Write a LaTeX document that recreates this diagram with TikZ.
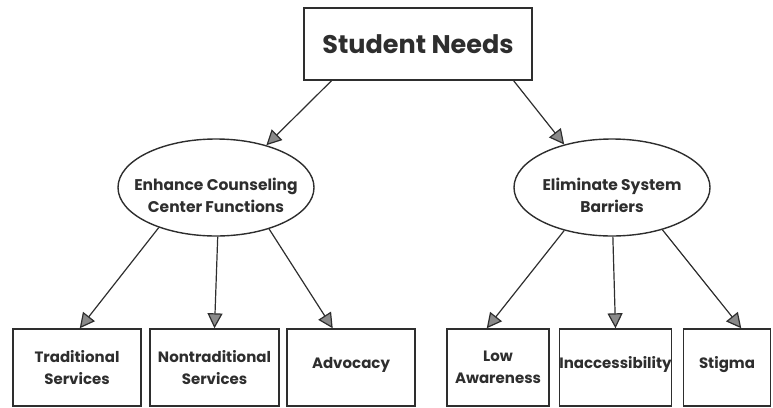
\documentclass[tikz,border=0pt]{standalone}
\usepackage{fontspec}
\setmainfont{Poppins}
\usetikzlibrary{shapes.geometric}
\usetikzlibrary{arrows.meta}

\definecolor{ink}{HTML}{2E2E2E}
\definecolor{tip}{HTML}{8A8A8A}

\tikzset{
	box/.style={rectangle,draw=ink,line width=1.4pt,text=ink,align=center,inner sep=0pt,
		minimum height=77pt,font=\fontsize{15}{22}\bfseries},
	oneline/.style={text height=11pt,text depth=10pt},
	oval/.style={ellipse,draw=ink,line width=1.4pt,inner sep=0pt,minimum width=196pt,minimum height=97pt},
	ovaltext/.style={text=ink,align=center,font=\fontsize{15.5}{22}\bfseries,yshift=-8pt},
	arr/.style={draw=ink,line width=1.2pt,-{Triangle[length=15pt,width=15pt,fill=tip]}}
}

\begin{document}
\begin{tikzpicture}[x=1pt,y=-1pt]
	\useasboundingbox (0,0) rectangle (773,407);

	\node[box,minimum width=228pt,minimum height=72pt,font=\fontsize{25.5}{30}\bfseries](needs) at (418,44) {Student Needs};

	\node[oval,label={[ovaltext]center:{Enhance Counseling\\Center Functions}}](enh) at (216,187.5) {};
	\node[oval,label={[ovaltext]center:{Eliminate System\\Barriers}}](elim) at (612,187.5) {};

	\node[box,minimum width=128pt](trad) at (77,367.5) {Traditional\\Services};
	\node[box,minimum width=129pt](nontrad) at (214.5,367.5) {Nontraditional\\Services};
	\node[box,oneline,minimum width=128pt](adv) at (351,367.5) {Advocacy};
	\node[box,minimum width=102pt](low) at (498,367.5) {Low\\Awareness};
	\node[box,oneline,minimum width=107pt](inacc) at (615.5,367.5) {Inaccessibility};
	\node[box,oneline,minimum width=87pt](stig) at (727,367.5) {Stigma};

	\draw[arr] (needs.-157) -- (enh.40);
	\draw[arr] (needs.-21) -- (elim.138);

	\draw[arr] (enh.215) -- (trad.86);
	\draw[arr] (enh.272) -- (nontrad.north);
	\draw[arr] (enh.322) -- (adv.115);

	\draw[arr] (elim.222) -- (low.106);
	\draw[arr] (elim.271) -- (inacc.north);
	\draw[arr] (elim.320) -- (stig.70);
\end{tikzpicture}
\end{document}
